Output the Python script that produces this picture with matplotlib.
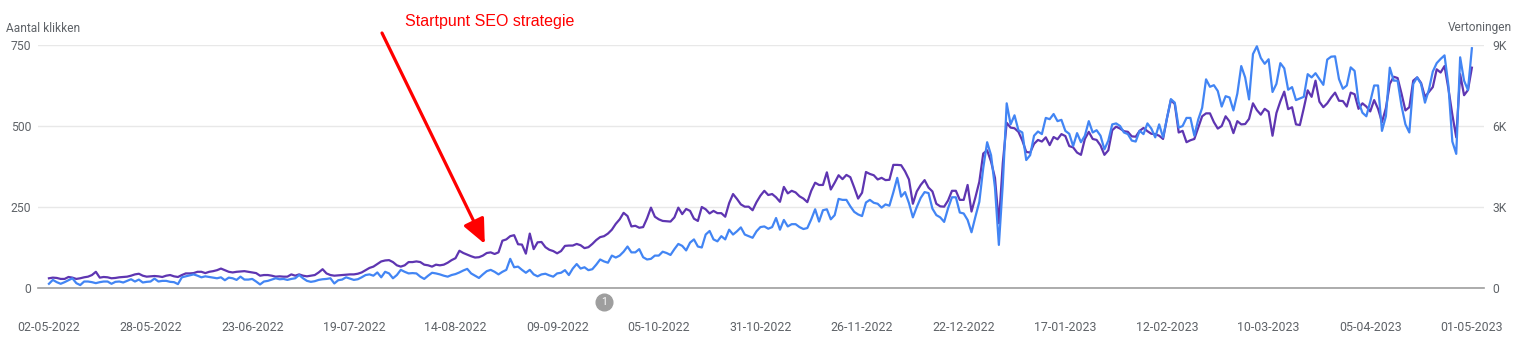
import matplotlib
matplotlib.use("Agg")
import matplotlib.pyplot as plt
import matplotlib.dates as mdates
import pandas as pd

plt.rcParams['font.family'] = ['Roboto', 'DejaVu Sans']

# Daily data, 02-05-2022 .. 01-05-2023
start_date = '2022-05-02'

clicks = [
    13, 25, 18, 13, 18, 24, 30, 15, 9, 20,
    20, 18, 15, 18, 20, 20, 13, 19, 20, 17,
    22, 27, 20, 26, 17, 19, 20, 29, 20, 22,
    22, 19, 18, 12, 33, 36, 39, 42, 38, 33,
    36, 34, 32, 30, 33, 24, 32, 30, 25, 35,
    26, 26, 28, 20, 11, 20, 22, 26, 30, 27,
    28, 25, 28, 30, 40, 30, 22, 19, 21, 25,
    27, 28, 30, 14, 24, 26, 33, 29, 25, 27,
    33, 40, 42, 38, 48, 33, 50, 45, 30, 40,
    56, 50, 45, 46, 45, 35, 28, 38, 47, 45,
    42, 38, 35, 40, 43, 48, 54, 59, 45, 38,
    31, 42, 52, 56, 50, 42, 50, 56, 90, 64,
    66, 56, 47, 56, 42, 36, 42, 44, 39, 35,
    45, 47, 55, 40, 60, 74, 60, 64, 55, 58,
    72, 88, 82, 78, 100, 94, 100, 112, 128, 110,
    110, 120, 95, 88, 90, 100, 100, 112, 108, 102,
    120, 136, 130, 116, 140, 150, 128, 125, 165, 176,
    150, 144, 160, 150, 180, 165, 175, 187, 165, 160,
    155, 175, 188, 190, 183, 188, 216, 180, 210, 190,
    197, 197, 188, 182, 185, 212, 243, 205, 240, 243,
    212, 225, 275, 272, 272, 252, 235, 227, 222, 264,
    272, 263, 260, 248, 258, 254, 295, 340, 282, 296,
    262, 218, 250, 278, 296, 293, 245, 225, 218, 204,
    246, 280, 280, 233, 230, 210, 172, 220, 266, 370,
    450, 410, 310, 133, 320, 570, 505, 533, 487, 480,
    395, 410, 470, 483, 475, 525, 521, 537, 515, 519,
    485, 476, 438, 478, 450, 470, 515, 480, 487, 470,
    428, 455, 505, 508, 500, 480, 475, 455, 452, 485,
    475, 508, 492, 465, 505, 465, 524, 583, 572, 495,
    500, 525, 525, 470, 520, 556, 644, 621, 626, 608,
    560, 592, 588, 548, 600, 685, 650, 582, 722, 746,
    710, 692, 706, 605, 630, 694, 678, 612, 620, 580,
    585, 590, 660, 650, 663, 645, 627, 705, 714, 715,
    645, 615, 625, 681, 670, 575, 541, 530, 575, 625,
    625, 485, 530, 680, 640, 640, 562, 505, 480, 630,
    650, 630, 572, 612, 668, 694, 707, 718, 625, 452,
    414, 712, 640, 611, 740,
]

impressions = [
    360, 384, 372, 336, 336, 408, 384, 336, 360, 396,
    420, 480, 600, 384, 408, 396, 360, 372, 396, 408,
    420, 456, 504, 528, 456, 420, 432, 444, 432, 408,
    456, 480, 432, 408, 480, 540, 540, 552, 600, 600,
    552, 600, 624, 660, 720, 660, 600, 576, 600, 612,
    624, 600, 576, 552, 456, 480, 480, 456, 420, 432,
    420, 420, 504, 456, 504, 456, 432, 456, 480, 576,
    696, 540, 480, 456, 468, 480, 492, 504, 504, 528,
    576, 660, 744, 792, 888, 984, 1020, 1032, 960, 840,
    792, 840, 960, 960, 984, 960, 864, 840, 792, 864,
    840, 864, 936, 1032, 1104, 1380, 1296, 1236, 1176, 1128,
    1140, 1200, 1296, 1320, 1260, 1320, 1752, 1800, 1920, 1956,
    1620, 1608, 1272, 2016, 1440, 1692, 1704, 1512, 1416, 1368,
    1284, 1368, 1560, 1572, 1572, 1632, 1584, 1476, 1512, 1632,
    1776, 1884, 1920, 2016, 2160, 2376, 2544, 2784, 2664, 2280,
    2304, 2232, 2256, 2580, 2976, 2640, 2544, 2484, 2472, 2460,
    2616, 2976, 2736, 2928, 2856, 2568, 2484, 3000, 2916, 2760,
    2856, 2772, 2772, 2640, 3144, 3480, 3300, 3096, 3012, 3012,
    2880, 3180, 3420, 3600, 3444, 3480, 3360, 3192, 3744, 3504,
    3600, 3540, 3396, 3312, 3180, 3600, 3900, 3816, 3816, 4284,
    3648, 3900, 4176, 4032, 4188, 4104, 3720, 3312, 3528, 4296,
    4224, 4176, 4020, 4080, 3996, 4008, 4560, 4560, 4548, 4320,
    4020, 3120, 3576, 3816, 3996, 3720, 3576, 3120, 3024, 3012,
    3240, 3600, 3600, 3264, 3264, 3816, 2832, 3360, 3936, 4980,
    5100, 4680, 4080, 2400, 4620, 6120, 5940, 5916, 5784, 5460,
    5040, 5016, 5340, 5484, 5424, 5580, 5292, 5592, 5508, 5700,
    5628, 5256, 5208, 5016, 4932, 5520, 5784, 5520, 5484, 5280,
    4932, 5100, 5844, 5976, 5904, 5808, 5784, 5616, 5604, 5820,
    5928, 5808, 5712, 5700, 5640, 5520, 6288, 6960, 6816, 5760,
    5820, 5400, 5472, 5520, 5940, 6360, 6468, 6468, 6144, 5904,
    6000, 6360, 6168, 5736, 6180, 6060, 6072, 6264, 6840, 6588,
    6420, 6636, 6528, 5640, 6480, 6912, 7272, 6624, 6696, 6060,
    6036, 6660, 7320, 7080, 7680, 6900, 6696, 6840, 7056, 7236,
    6936, 6924, 6720, 7236, 7176, 6636, 6840, 6720, 6540, 6960,
    6636, 6144, 6660, 7560, 7824, 7776, 7200, 6576, 6696, 7680,
    7800, 7596, 7080, 7260, 7440, 8100, 7980, 8220, 7380, 6420,
    5580, 7920, 7140, 7332, 8160,
]

clicks_ticks = [0, 250, 500, 750]
impr_ticks = [0, 3000, 6000, 9000]
impr_tick_labels = ['0', '3K', '6K', '9K']

annotation_text = 'Startpunt SEO strategie'
annotation_date = '2022-08-21'   # day the arrow points at
annotation_value = 136           # in clicks units
marker_date = '2022-09-21'       # the "1" annotation bubble

dates = pd.date_range(start_date, periods=len(clicks), freq='D')

BLUE = '#4285f4'
PURPLE = '#5e35b1'
GREY_TXT = '#5f6368'

W, H = 1528, 349
fig = plt.figure(figsize=(W / 100, H / 100), dpi=100)
ax1 = fig.add_axes([38 / W, 61 / H, 1446 / W, 243 / H])
ax2 = ax1.twinx()

ax1.set_zorder(ax2.get_zorder() + 1)
ax1.patch.set_visible(False)

# Impressions (right axis) behind, clicks (left axis) in front
ax2.plot(dates, impressions, color=PURPLE, lw=1.6, solid_joinstyle='round')
ax1.plot(dates, clicks, color=BLUE, lw=1.6, solid_joinstyle='round', clip_on=False)

ax1.set_ylim(0, 750)
ax2.set_ylim(0, 9000)
ax1.set_yticks(clicks_ticks)
ax2.set_yticks(impr_ticks)
ax2.set_yticklabels(impr_tick_labels)

x0 = mdates.date2num(dates[0])
ax1.set_xlim(x0 - 2.8, x0 + 364 + 3.1)
ax1.set_xticks(dates[::26])
ax1.xaxis.set_major_formatter(mdates.DateFormatter('%d-%m-%Y'))

ax2.grid(axis='y', color='#e8e8e8', lw=1)
for ax in (ax1, ax2):
    for s in ax.spines.values():
        s.set_visible(False)
ax1.spines['bottom'].set_visible(True)
ax1.spines['bottom'].set_color('#9e9e9e')
ax1.spines['bottom'].set_linewidth(1.2)

ax1.tick_params(axis='y', length=0, pad=5, labelsize=8.7, labelcolor=GREY_TXT)
ax2.tick_params(axis='y', length=0, pad=6, labelsize=8.7, labelcolor=GREY_TXT)
ax1.tick_params(axis='x', length=0, pad=24, labelsize=8.9, labelcolor=GREY_TXT)

# Axis titles
fig.text(6 / W, 1 - 28 / H, 'Aantal klikken', ha='left', va='center',
         fontsize=8.6, color=GREY_TXT)
fig.text(1512 / W, 1 - 28 / H, 'Vertoningen', ha='right', va='center',
         fontsize=8.6, color=GREY_TXT)

# "1" annotation bubble below the axis
mx = mdates.date2num(pd.Timestamp(marker_date))
ax1.plot([mx], [-44], 'o', ms=12, color='#9e9e9e', clip_on=False, zorder=5)
ax1.text(mx, -44, '1', color='white', fontsize=7.5, ha='center', va='center',
         clip_on=False, zorder=6)

# Red arrow + label
ax_x = mdates.date2num(pd.Timestamp(annotation_date)) + 0.5
ax1.annotate('', xy=(ax_x, annotation_value), xycoords='data',
             xytext=(382, H - 33), textcoords='figure pixels',
             arrowprops=dict(arrowstyle='-|>,head_length=1.0,head_width=0.45',
                             color='#ff0000', lw=2.3, shrinkA=0, shrinkB=0,
                             mutation_scale=15),
             annotation_clip=False)
fig.text(405 / W, 1 - 21.5 / H, annotation_text, ha='left', va='center',
         fontsize=11.5, color='#ff0000', family='Liberation Sans')

fig.savefig('out.png', dpi=100)
